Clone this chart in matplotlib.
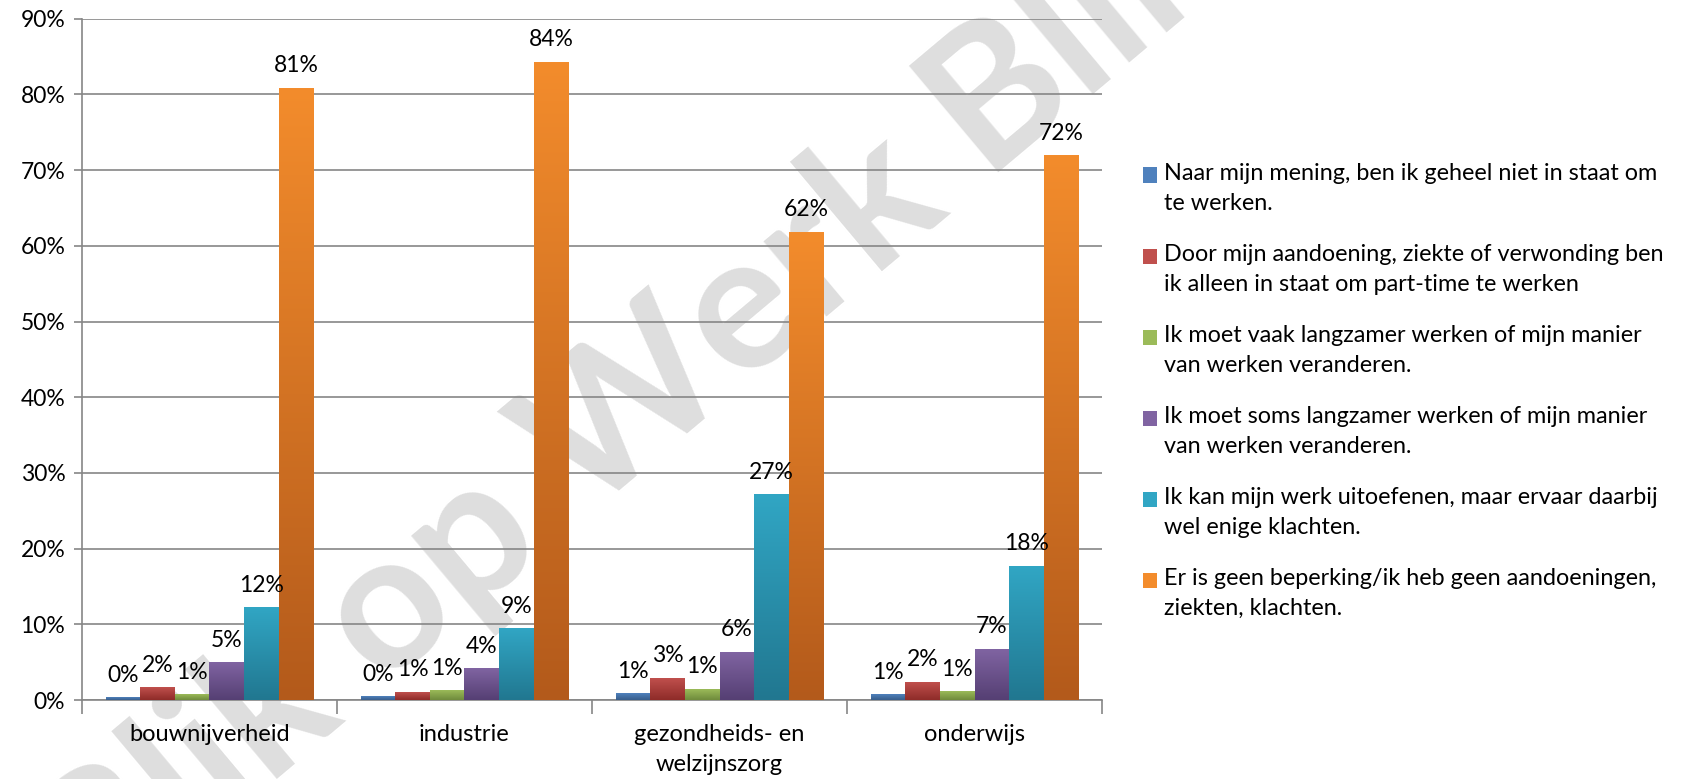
import matplotlib
matplotlib.use("Agg")
import matplotlib.pyplot as plt
import numpy as np
from matplotlib.colors import LinearSegmentedColormap
from matplotlib.patches import Rectangle

plt.rcParams['font.family'] = ['Lato', 'DejaVu Sans']

categories = ["bouwnijverheid", "industrie", "gezondheids- en\nwelzijnszorg", "onderwijs"]

series_labels = [
    "Naar mijn mening, ben ik geheel niet in staat om\nte werken.",
    "Door mijn aandoening, ziekte of verwonding ben\nik alleen in staat om part-time te werken",
    "Ik moet vaak langzamer werken of mijn manier\nvan werken veranderen.",
    "Ik moet soms langzamer werken of mijn manier\nvan werken veranderen.",
    "Ik kan mijn werk uitoefenen, maar ervaar daarbij\nwel enige klachten.",
    "Er is geen beperking/ik heb geen aandoeningen,\nziekten, klachten.",
]

# percentages per category, one list per series
niet_in_staat = [0.3, 0.4, 0.8, 0.7]
part_time = [1.6, 1.0, 2.9, 2.3]
vaak_langzamer = [0.7, 1.2, 1.4, 1.1]
soms_langzamer = [4.9, 4.1, 6.3, 6.7]
enige_klachten = [12.2, 9.4, 27.1, 17.7]
geen_beperking = [80.8, 84.2, 61.8, 71.9]

series = [niet_in_staat, part_time, vaak_langzamer, soms_langzamer, enige_klachten, geen_beperking]

# (top colour, bottom colour) for the excel-like gradient
colors = [
    ("#4F81BD", "#385D8A"),
    ("#C0504D", "#8E2B28"),
    ("#9BBB59", "#6F8A3C"),
    ("#8064A2", "#553F73"),
    ("#31A6C4", "#217790"),
    ("#F38C2C", "#B35A1B"),
]

fig = plt.figure(figsize=(17.07, 7.79), dpi=100)
ax = fig.add_axes([0.048, 0.1014, 0.5976, 0.8746])
ax.set_facecolor("none")

# watermark, behind everything
fig.text(0.405, 0.54, "Blik op Werk Blik o", fontsize=138, fontweight="bold",
         color="#dedede", rotation=40, ha="center", va="center", zorder=-1)

x = np.arange(len(categories))
n = len(series)
group_w = 0.815
bw = group_w / n

for i, vals in enumerate(series):
    pos = x - group_w / 2 + bw * (i + 0.5)
    bars = ax.bar(pos, vals, width=bw, color=colors[i][0], zorder=3, label=series_labels[i])
    cmap = LinearSegmentedColormap.from_list("g%d" % i, [colors[i][1], colors[i][0]])
    grad = np.linspace(0, 1, 256).reshape(-1, 1)
    for b, v in zip(bars, vals):
        x0 = b.get_x()
        ax.imshow(grad, extent=[x0, x0 + bw, 0, v], origin="lower", cmap=cmap,
                  aspect="auto", zorder=3.5, interpolation="bilinear")
        ax.text(x0 + bw / 2, v + 1.6, "%d%%" % round(v), ha="center", va="bottom",
                fontsize=16.5, zorder=5)

ax.set_xlim(-0.5, len(categories) - 0.5)
ax.set_ylim(0, 90)
ax.set_yticks(np.arange(0, 91, 10))
ax.set_yticklabels(["%d%%" % t for t in range(0, 91, 10)], fontsize=16.5)
ax.set_xticks(x)
ax.set_xticklabels(categories, fontsize=17, linespacing=1.55)
ax.set_xticks(np.arange(-0.5, len(categories)), minor=True)
ax.tick_params(axis="x", which="major", length=0, pad=17)
ax.tick_params(axis="x", which="minor", length=10, color="#868686", width=1.2)
ax.tick_params(axis="y", length=6, color="#868686", width=1.2, pad=6)

ax.grid(axis="y", color="#868686", linewidth=1.2, zorder=1)
ax.set_axisbelow(True)
for s in ["top", "right"]:
    ax.spines[s].set_visible(False)
ax.spines["left"].set_color("#868686")
ax.spines["bottom"].set_color("#868686")
ax.spines["left"].set_linewidth(1.2)
ax.spines["bottom"].set_linewidth(1.2)

# legend drawn by hand so the square sits on the first line
leg_x = 0.6695
leg_y0 = 0.776
leg_step = 0.104
for i, lab in enumerate(series_labels):
    y = leg_y0 - i * leg_step
    fig.patches.append(Rectangle((leg_x, y - 0.011), 0.0085, 0.02, transform=fig.transFigure,
                                 facecolor=colors[i][0], edgecolor="none"))
    fig.text(leg_x + 0.0125, y + 0.015, lab, fontsize=16.8, va="top", ha="left", linespacing=1.55)

fig.savefig("out.png", dpi=100)
